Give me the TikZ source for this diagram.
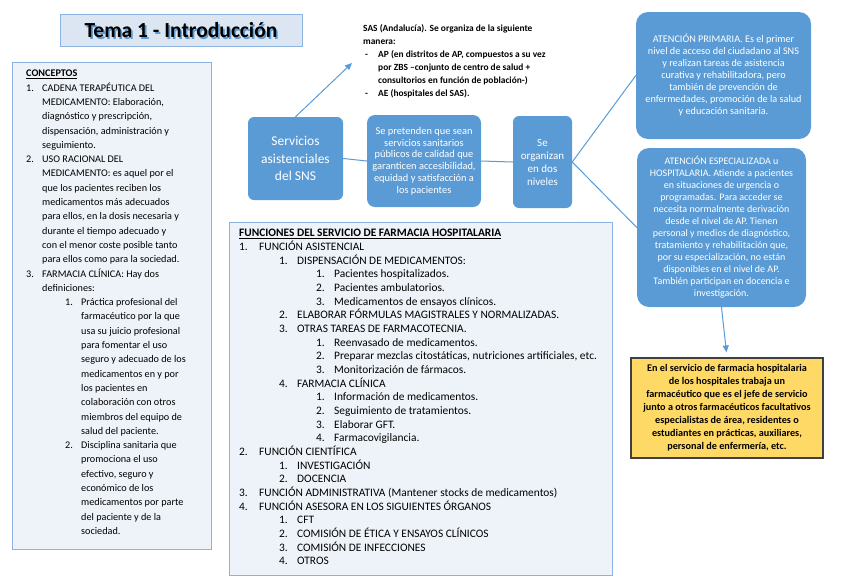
\documentclass[tikz,border=0pt]{standalone}
\usepackage{fontspec}
\setmainfont{Carlito}
\usetikzlibrary{arrows.meta}
\definecolor{boxblue}{HTML}{5B9BD5}
\definecolor{paleblue}{HTML}{EEF3FA}
\definecolor{edgeblue}{HTML}{8DB3E2}
\definecolor{titlefill}{HTML}{DCE6F2}
\definecolor{notegold}{HTML}{FFD966}
\newcommand{\entry}[3]{\hspace*{#1pt}\makebox[#2pt][l]{#3}}
\newcommand{\cont}[1]{\hspace*{#1pt}}

\begin{document}
\begin{tikzpicture}[x=1pt, y=-1pt,
    bluebox/.style={fill=boxblue, rounded corners=8pt, text=white, align=center, inner sep=0pt},
    listbox/.style={fill=paleblue, draw=edgeblue, line width=1pt},
    link/.style={draw=boxblue, line width=1pt}]
    \useasboundingbox (0,0) rectangle (848,587);
    % title
    \draw[fill=titlefill, draw=edgeblue, line width=1pt] (60,14) rectangle (302,46);
    \node[text=boxblue, font=\fontsize{21.5}{24}\selectfont\bfseries] (titleshadow) at (182.6,32.1) {Tema 1 - Introducción};
    \node[font=\fontsize{21.5}{24}\selectfont\bfseries] (title) at (181,30.5) {Tema 1 - Introducción};
    % conceptos
    \draw[listbox] (12,62) rectangle (211,549);
    \node[anchor=north west, align=left, inner sep=0pt, font=\fontsize{10.2}{14.3}\selectfont] (concepts) at (26,70) {%
        \underline{\textbf{CONCEPTOS}}\\
        \entry{0}{16}{1.}CADENA TERAPÉUTICA DEL\\
        \cont{16}MEDICAMENTO: Elaboración,\\
        \cont{16}diagnóstico y prescripción,\\
        \cont{16}dispensación, administración y\\
        \cont{16}seguimiento.\\
        \entry{0}{16}{2.}USO RACIONAL DEL\\
        \cont{16}MEDICAMENTO: es aquel por el\\
        \cont{16}que los pacientes reciben los\\
        \cont{16}medicamentos más adecuados\\
        \cont{16}para ellos, en la dosis necesaria y\\
        \cont{16}durante el tiempo adecuado y\\
        \cont{16}con el menor coste posible tanto\\
        \cont{16}para ellos como para la sociedad.\\
        \entry{0}{16}{3.}FARMACIA CLÍNICA: Hay dos\\
        \cont{16}definiciones:\\
        \entry{39}{16}{1.}Práctica profesional del\\
        \cont{55}farmacéutico por la que\\
        \cont{55}usa su juicio profesional\\
        \cont{55}para fomentar el uso\\
        \cont{55}seguro y adecuado de los\\
        \cont{55}medicamentos en y por\\
        \cont{55}los pacientes en\\
        \cont{55}colaboración con otros\\
        \cont{55}miembros del equipo de\\
        \cont{55}salud del paciente.\\
        \entry{39}{16}{2.}Disciplina sanitaria que\\
        \cont{55}promociona el uso\\
        \cont{55}efectivo, seguro y\\
        \cont{55}económico de los\\
        \cont{55}medicamentos por parte\\
        \cont{55}del paciente y de la\\
        \cont{55}sociedad.};
    % SAS
    \node[anchor=north west, align=left, inner sep=0pt, font=\fontsize{9.4}{13}\selectfont\bfseries] (sas) at (363,24) {%
        SAS (Andalucía). Se organiza de la siguiente\\
        manera:\\
        \entry{2}{13}{-}AP (en distritos de AP, compuestos a su vez\\
        \cont{15}por ZBS --conjunto de centro de salud +\\
        \cont{15}consultorios en función de población-)\\
        \entry{2}{13}{-}AE (hospitales del SAS).};
    % blue boxes
    \node[bluebox, rounded corners=6pt, minimum width=95, minimum height=83, font=\fontsize{13.5}{17.5}\selectfont] (serv) at (295.5,158.5) {Servicios\\asistenciales\\del SNS};
    \node[bluebox, minimum width=114, minimum height=92, font=\fontsize{10.4}{11.8}\selectfont] (want) at (424,161) {Se pretenden que sean\\servicios sanitarios\\públicos de calidad que\\garanticen accesibilidad,\\equidad y satisfacción a\\los pacientes};
    \node[bluebox, rounded corners=6pt, minimum width=59, minimum height=92, font=\fontsize{11}{13}\selectfont] (niv) at (542.5,162) {Se\\organizan\\en dos\\niveles};
    \node[bluebox, rounded corners=12pt, minimum width=175, minimum height=127, font=\fontsize{10.2}{12}\selectfont] (ap) at (723.5,75.5) {ATENCIÓN PRIMARIA. Es el primer\\nivel de acceso del ciudadano al SNS\\y realizan tareas de asistencia\\curativa y rehabilitadora, pero\\también de prevención de\\enfermedades, promoción de la salud\\y educación sanitaria.};
    \node[bluebox, rounded corners=12pt, minimum width=169, minimum height=159, font=\fontsize{10}{12}\selectfont] (ae) at (721.5,227.5) {ATENCIÓN ESPECIALIZADA u\\HOSPITALARIA. Atiende a pacientes\\en situaciones de urgencia o\\programadas. Para acceder se\\necesita normalmente derivación\\desde el nivel de AP. Tienen\\personal y medios de diagnóstico,\\tratamiento y rehabilitación que,\\por su especialización, no están\\disponibles en el nivel de AP.\\También participan en docencia e\\investigación.};
    \node[fill=notegold, draw=black!75, line width=1.2pt, align=center, inner sep=0pt, minimum width=192, minimum height=100, font=\fontsize{10.2}{13}\selectfont\bfseries] (staff) at (727,408) {En el servicio de farmacia hospitalaria\\de los hospitales trabaja un\\farmacéutico que es el jefe de servicio\\junto a otros farmacéuticos facultativos\\especialistas de área, residentes o\\estudiantes en prácticas, auxiliares,\\personal de enfermería, etc.};
    % connectors
    \coordinate (sasarrow) at (352,63);
    \draw[link, -{Triangle[length=7pt, width=6pt]}] (serv.north) -- (sasarrow);
    \draw[link] (serv.east) -- (want.west);
    \draw[link] (want.east) -- (niv.west);
    \draw[link] (niv.east) -- (ap.west);
    \draw[link] (niv.east) -- (ae.west);
    \draw[link, shorten >=5pt, -{Triangle[length=7pt, width=6pt]}] (ae.south) -- (staff.north);
    % funciones
    \draw[listbox] (229,222) rectangle (612,575);
    \node[anchor=north west, align=left, inner sep=0pt, font=\fontsize{11.4}{13.67}\selectfont] (funcs) at (239,229) {%
        \underline{\textbf{FUNCIONES DEL SERVICIO DE FARMACIA HOSPITALARIA}}\\
        \entry{0}{20}{1.}FUNCIÓN ASISTENCIAL\\
        \entry{40}{18}{1.}DISPENSACIÓN DE MEDICAMENTOS:\\
        \entry{77}{18}{1.}Pacientes hospitalizados.\\
        \entry{77}{18}{2.}Pacientes ambulatorios.\\
        \entry{77}{18}{3.}Medicamentos de ensayos clínicos.\\
        \entry{40}{18}{2.}ELABORAR FÓRMULAS MAGISTRALES Y NORMALIZADAS.\\
        \entry{40}{18}{3.}OTRAS TAREAS DE FARMACOTECNIA.\\
        \entry{77}{18}{1.}Reenvasado de medicamentos.\\
        \entry{77}{18}{2.}Preparar mezclas citostáticas, nutriciones artificiales, etc.\\
        \entry{77}{18}{3.}Monitorización de fármacos.\\
        \entry{40}{18}{4.}FARMACIA CLÍNICA\\
        \entry{77}{18}{1.}Información de medicamentos.\\
        \entry{77}{18}{2.}Seguimiento de tratamientos.\\
        \entry{77}{18}{3.}Elaborar GFT.\\
        \entry{77}{18}{4.}Farmacovigilancia.\\
        \entry{0}{20}{2.}FUNCIÓN CIENTÍFICA\\
        \entry{40}{18}{1.}INVESTIGACIÓN\\
        \entry{40}{18}{2.}DOCENCIA\\
        \entry{0}{20}{3.}FUNCIÓN ADMINISTRATIVA (Mantener stocks de medicamentos)\\
        \entry{0}{20}{4.}FUNCIÓN ASESORA EN LOS SIGUIENTES ÓRGANOS\\
        \entry{40}{18}{1.}CFT\\
        \entry{40}{18}{2.}COMISIÓN DE ÉTICA Y ENSAYOS CLÍNICOS\\
        \entry{40}{18}{3.}COMISIÓN DE INFECCIONES\\
        \entry{40}{18}{4.}OTROS};
\end{tikzpicture}
\end{document}
